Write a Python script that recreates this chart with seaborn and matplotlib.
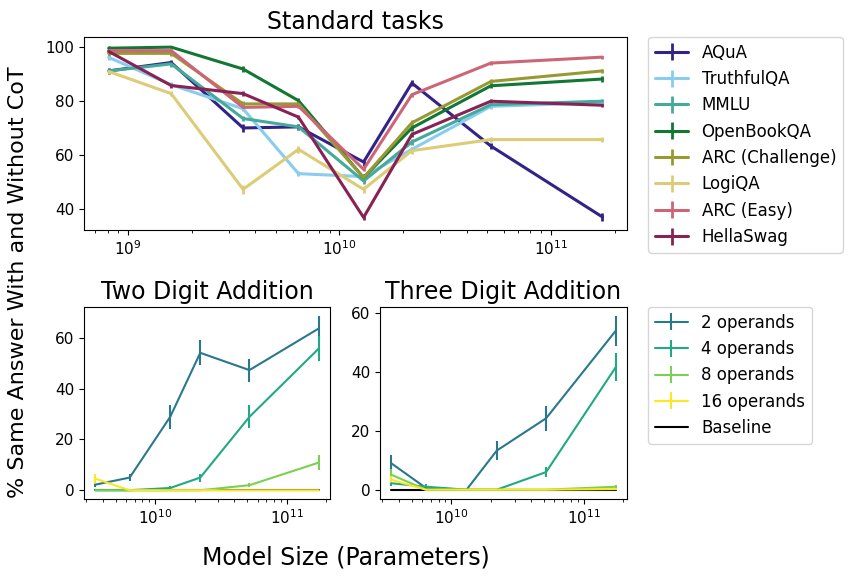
import numpy as np
import pandas as pd
import matplotlib
matplotlib.use("Agg")
import matplotlib.pyplot as plt
import seaborn as sns

sns.set_style("ticks", rc={
    "axes.edgecolor": "black", "text.color": "black", "axes.labelcolor": "black",
    "xtick.color": "black", "ytick.color": "black",
    "xtick.major.size": 3.5, "ytick.major.size": 3.5,
    "xtick.minor.size": 2.0, "ytick.minor.size": 2.0,
    "axes.linewidth": 0.8, "xtick.major.width": 0.8, "ytick.major.width": 0.8,
    "xtick.minor.width": 0.6, "ytick.minor.width": 0.6,
})
plt.rcParams['font.family'] = ['DejaVu Sans']

# ---------------- data ----------------
std_sizes = [8.1e8, 1.6e9, 3.5e9, 6.4e9, 1.3e10, 2.2e10, 5.2e10, 1.75e11]
std_tasks = ["AQuA", "TruthfulQA", "MMLU", "OpenBookQA", "ARC (Challenge)",
             "LogiQA", "ARC (Easy)", "HellaSwag"]
std_colors = ['#332288', '#88CCEE', '#44AA99', '#117733', '#999933',
              '#DDCC77', '#CC6677', '#882255']
aqua       = [91.0, 94.1, 69.9, 70.3, 57.3, 86.5, 63.2, 37.0]
truthfulqa = [96.0, 85.9, 77.0, 53.0, 51.9, 62.0, 77.9, 79.3]
mmlu       = [91.0, 93.6, 73.4, 70.3, 50.3, 64.7, 78.5, 79.8]
openbookqa = [99.4, 99.8, 91.7, 80.0, 51.5, 69.9, 85.5, 88.0]
arc_chal   = [97.5, 97.5, 78.8, 78.8, 51.5, 71.8, 87.1, 91.0]
logiqa     = [90.8, 82.6, 47.2, 62.0, 47.2, 61.5, 65.6, 65.6]
arc_easy   = [98.5, 98.5, 77.5, 77.9, 54.6, 82.2, 93.9, 96.1]
hellaswag  = [98.2, 85.6, 82.6, 73.9, 36.8, 67.5, 79.8, 78.3]
std_values = [aqua, truthfulqa, mmlu, openbookqa, arc_chal, logiqa, arc_easy, hellaswag]
std_err = [
    [1.2, 1.0, 1.5, 1.2, 1.3, 1.0, 1.0, 1.6],
    [0.8, 0.9, 1.0, 1.0, 1.0, 1.0, 0.9, 0.9],
    [1.0, 1.0, 1.0, 1.0, 1.0, 1.0, 0.8, 0.8],
    [0.8, 0.5, 1.0, 1.0, 1.2, 1.2, 1.0, 1.0],
    [0.8, 0.8, 1.0, 1.0, 1.0, 1.0, 0.8, 0.8],
    [1.0, 1.0, 1.6, 1.2, 1.2, 1.2, 1.0, 1.0],
    [0.6, 0.6, 0.8, 0.8, 0.8, 0.8, 0.6, 0.6],
    [0.8, 0.8, 0.8, 0.8, 0.8, 0.8, 0.8, 0.8],
]

add_sizes = [3.5e9, 6.4e9, 1.3e10, 2.2e10, 5.2e10, 1.75e11]
operand_labels = ["2 operands", "4 operands", "8 operands", "16 operands"]
operand_colors = ['#2a788e', '#22a884', '#7ad151', '#fde725']

two_digit = [
    [2.2, 5.0, 28.9, 54.1, 47.3, 63.7],
    [0.0, 0.0, 0.9, 5.0, 28.9, 55.8],
    [0.0, 0.0, 0.0, 0.0, 2.0, 10.9],
    [4.6, 0.0, 0.0, 0.0, 0.0, 0.0],
]
two_digit_err = [
    [1.0, 1.5, 4.6, 4.9, 4.5, 5.0],
    [0.0, 0.0, 0.6, 1.6, 4.5, 5.0],
    [0.0, 0.0, 0.0, 0.0, 0.9, 2.8],
    [2.0, 0.0, 0.0, 0.0, 0.0, 0.0],
]
three_digit = [
    [9.0, 0.6, 0.0, 13.3, 24.3, 54.1],
    [2.2, 1.0, 0.0, 0.0, 6.0, 41.7],
    [5.1, 0.0, 0.0, 0.0, 0.0, 1.0],
    [3.4, 0.0, 0.0, 0.0, 0.0, 0.2],
]
three_digit_err = [
    [2.8, 0.8, 0.0, 3.3, 4.3, 5.1],
    [1.0, 0.8, 0.0, 0.0, 1.8, 4.8],
    [1.8, 0.0, 0.0, 0.0, 0.0, 0.7],
    [1.2, 0.0, 0.0, 0.0, 0.0, 0.3],
]
baseline = [0.0, 0.0, 0.0, 0.0, 0.0, 0.0]

# ---------------- figure ----------------
W, H = 852, 581
fig = plt.figure(figsize=(W / 100, H / 100), dpi=100)

def pos(l, r, t, b):
    return [l / W, 1 - b / H, (r - l) / W, (b - t) / H]

ax_top = fig.add_axes(pos(84, 627, 37, 230))
ax_two = fig.add_axes(pos(84, 330, 307, 499))
ax_three = fig.add_axes(pos(380, 627, 307, 499))

for name, vals, errs, col in zip(std_tasks, std_values, std_err, std_colors):
    ax_top.errorbar(std_sizes, vals, yerr=errs, color=col, lw=2.2,
                    elinewidth=2.0, label=name)
ax_top.set_xscale('log')
ax_top.set_title("Standard tasks", fontsize=17)
ax_top.set_yticks([40, 60, 80, 100])
ax_top.legend(loc='upper left', bbox_to_anchor=(1.039, 1.0), borderaxespad=0,
              fontsize=12, handlelength=2.0)

for ax, data, errs, title in [(ax_two, two_digit, two_digit_err, "Two Digit Addition"),
                              (ax_three, three_digit, three_digit_err, "Three Digit Addition")]:
    df = pd.DataFrame({"size": add_sizes, "value": baseline})
    sns.lineplot(data=df, x="size", y="value", color='black', lw=1.5, ax=ax,
                 label="Baseline", legend=False)
    for lab, vals, e, col in zip(operand_labels, data, errs, operand_colors):
        ax.errorbar(add_sizes, vals, yerr=e, color=col, lw=1.5, elinewidth=1.5,
                    label=lab)
    ax.set_xscale('log')
    ax.set_title(title, fontsize=17)
    ax.set_xlabel("")
    ax.set_ylabel("")
    ax.set_yticks([0, 20, 40, 60])

for ax in [ax_top, ax_two, ax_three]:
    ax.tick_params(labelsize=11)

h, l = ax_three.get_legend_handles_labels()
order = [l.index(x) for x in operand_labels + ["Baseline"]]
ax_three.legend([h[i] for i in order], [l[i] for i in order],
                loc='upper left', bbox_to_anchor=(1.085, 1.0), borderaxespad=0,
                fontsize=12)

fig.text(18 / W, 1 - 282 / H, "% Same Answer With and Without CoT", rotation=90,
         ha='center', va='center', fontsize=16)
fig.text(346 / W, 1 - 558 / H, "Model Size (Parameters)", ha='center', va='center',
         fontsize=17)

fig.savefig("out.png", dpi=100)
